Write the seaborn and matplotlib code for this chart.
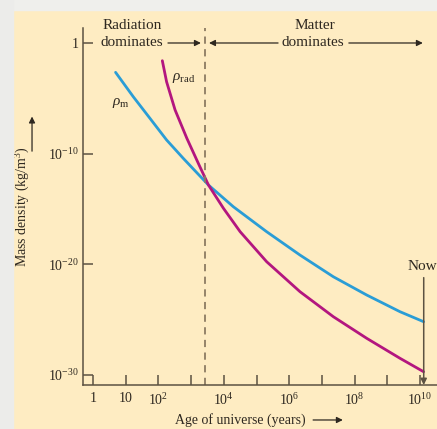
import numpy as np
import pandas as pd
import seaborn as sns
import matplotlib.pyplot as plt
from matplotlib.patches import Rectangle

sns.set_style("ticks")
plt.rcParams['font.family'] = ['Liberation Serif', 'DejaVu Serif']
plt.rcParams['mathtext.fontset'] = 'custom'
plt.rcParams['mathtext.rm'] = 'Liberation Serif'
plt.rcParams['mathtext.it'] = 'Liberation Serif:italic'

# log10 of age (years) and log10 of density (kg/m^3)
matter_log_age = [0.69, 1.23, 1.74, 2.25, 2.76, 3.53, 4.29, 5.31, 6.33, 7.35, 8.37, 9.39, 10.11]
matter_log_rho = [-2.65, -4.85, -6.80, -8.76, -10.42, -12.83, -14.79, -17.05, -19.16,
                  -21.12, -22.77, -24.28, -25.18]
rad_log_age = [2.12, 2.25, 2.51, 2.87, 3.22, 3.53, 3.99, 4.50, 5.31, 6.33, 7.35, 8.37,
               9.39, 10.11]
rad_log_rho = [-1.60, -3.50, -6.05, -8.61, -10.87, -12.83, -14.94, -17.05, -19.76,
               -22.47, -24.73, -26.68, -28.49, -29.70]

equality_age = 2.7e3
now_age = 1.3e10

xtick_vals = [10**k for k in range(11)]
xtick_labels = ['1', '10', '$10^2$', '', '$10^4$', '', '$10^6$', '', '$10^8$', '', '$10^{10}$']
ytick_vals = [1, 1e-10, 1e-20, 1e-30]
ytick_labels = ['1', '$10^{-10}$', '$10^{-20}$', '$10^{-30}$']

matter = pd.DataFrame({'age': 10**np.array(matter_log_age), 'rho': 10**np.array(matter_log_rho)})
rad = pd.DataFrame({'age': 10**np.array(rad_log_age), 'rho': 10**np.array(rad_log_rho)})

cream = '#feecc2'
ink = '#2e2820'
axis_col = '#5c5242'

fig = plt.figure(figsize=(4.37, 4.29), dpi=100, facecolor=cream)
# page background showing round the panel
fig.patches.append(Rectangle((0, 1 - 10/429), 1, 10/429, transform=fig.transFigure,
                             color='#efefec', zorder=0))
fig.patches.append(Rectangle((0, 0), 13/437, 1, transform=fig.transFigure,
                             color='#ececea', zorder=0))

ax = fig.add_axes([83/437, 44/429, 354/437, 357/429])
ax.set_facecolor(cream)
ax.set_xscale('log')
ax.set_yscale('log')

sns.lineplot(x='age', y='rho', data=matter, ax=ax, color='#2a9dd6', lw=2.0, sort=False)
sns.lineplot(x='age', y='rho', data=rad, ax=ax, color='#b3167f', lw=2.0, sort=False)

ax.set_xlim(10**-0.306, 10**10.52)
ax.set_ylim(10**-30.9, 10**1.355)

ax.axvline(equality_age, color='#8c7c62', lw=1.3, ls=(0, (4, 3)))

ax.set_xticks(xtick_vals)
ax.set_xticklabels(xtick_labels)
ax.set_yticks(ytick_vals)
ax.set_yticklabels(ytick_labels)
ax.minorticks_off()
ax.tick_params(axis='both', direction='in', length=7.5, width=1.1, color=axis_col,
               labelsize=10, labelcolor=ink)
ax.tick_params(axis='x', pad=5)
ax.tick_params(axis='y', pad=3)

for s in ['top', 'right']:
    ax.spines[s].set_visible(False)
for s in ['left', 'bottom']:
    ax.spines[s].set_color(axis_col)
    ax.spines[s].set_linewidth(1.1)

ax.set_xlabel('')
ax.set_ylabel('Mass density (kg/m$^3$)', fontsize=10, color=ink)
ax.yaxis.set_label_coords(-0.144, 0.50)
ax.text(0.4435, -0.098, 'Age of universe (years)', transform=ax.transAxes,
        ha='center', va='center', fontsize=10, color=ink)

arrow = dict(arrowstyle='-|>', lw=0.9, color=ink, mutation_scale=9, shrinkA=0, shrinkB=0)
ax.annotate('', xy=(0.734, -0.098), xytext=(0.650, -0.098), xycoords='axes fraction',
            arrowprops=arrow, annotation_clip=False)
ax.annotate('', xy=(-0.144, 0.752), xytext=(-0.144, 0.655), xycoords='axes fraction',
            arrowprops=arrow, annotation_clip=False)

# era annotations
ax.text(0.140, 1.006, 'Radiation', transform=ax.transAxes, ha='center', va='center',
        fontsize=11, color=ink)
ax.text(0.137, 0.958, 'dominates', transform=ax.transAxes, ha='center', va='center',
        fontsize=11, color=ink)
ax.annotate('', xy=(0.333, 0.958), xytext=(0.240, 0.958), xycoords='axes fraction',
            arrowprops=arrow, annotation_clip=False)
ax.text(0.655, 1.008, 'Matter', transform=ax.transAxes, ha='center', va='center',
        fontsize=11, color=ink)
ax.text(0.650, 0.958, 'dominates', transform=ax.transAxes, ha='center', va='center',
        fontsize=11, color=ink)
ax.annotate('', xy=(0.356, 0.958), xytext=(0.551, 0.958), xycoords='axes fraction',
            arrowprops=arrow, annotation_clip=False)
ax.annotate('', xy=(0.960, 0.958), xytext=(0.751, 0.958), xycoords='axes fraction',
            arrowprops=arrow, annotation_clip=False)

# curve labels
ax.text(0.082, 0.790, r'$\rho_{\rm m}$', transform=ax.transAxes, ha='left', va='center',
        fontsize=11, color=ink)
ax.text(0.251, 0.861, r'$\rho_{\rm rad}$', transform=ax.transAxes, ha='left', va='center',
        fontsize=11, color=ink)

# now marker
ax.annotate('', xy=(now_age, 10**-30.9), xytext=(now_age, 10**-21.2),
            arrowprops=dict(arrowstyle='-|>', lw=1.1, color=axis_col, mutation_scale=9,
                            shrinkA=0, shrinkB=0), annotation_clip=False)
ax.text(10**9.63, 10**-20.2, 'Now', ha='left', va='center', fontsize=11, color=ink,
        clip_on=False)

fig.savefig('out.png', dpi=100, facecolor=fig.get_facecolor())
